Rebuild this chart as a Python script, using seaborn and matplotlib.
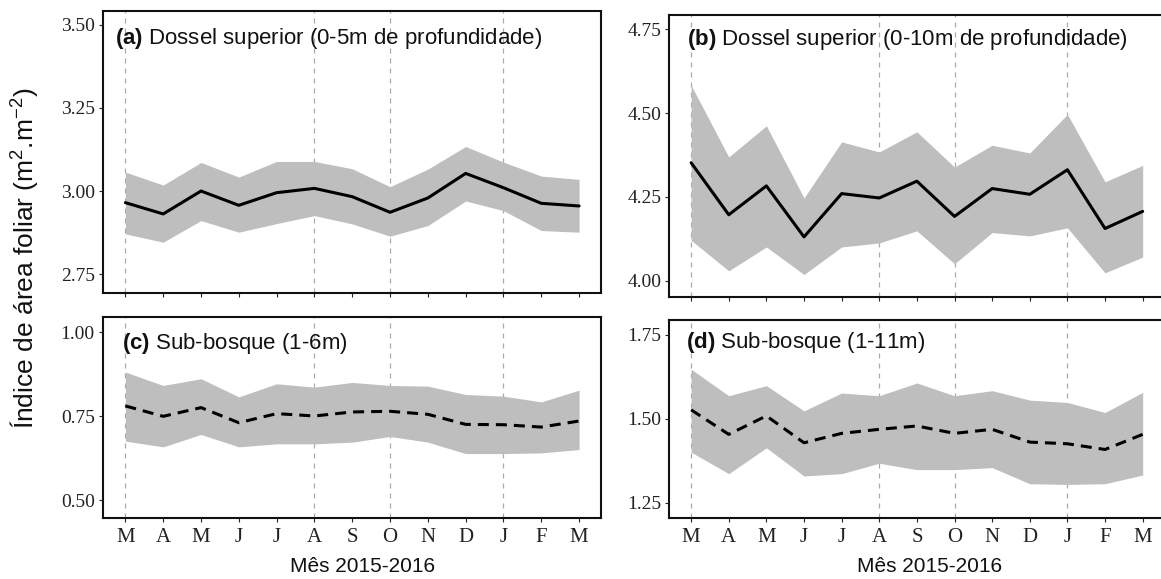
import numpy as np
import pandas as pd
import matplotlib
matplotlib.use("Agg")
import matplotlib.pyplot as plt
import seaborn as sns

# Months March 2015 - March 2016
months = ["M", "A", "M", "J", "J", "A", "S", "O", "N", "D", "J", "F", "M"]
grid_months = [0, 5, 7, 10]

# (a) upper canopy, 0-5 m depth
a_mean = [2.965, 2.931, 3.000, 2.957, 2.995, 3.008, 2.983, 2.936, 2.979, 3.053, 3.010, 2.963, 2.955]
a_upper = [3.057, 3.018, 3.086, 3.042, 3.089, 3.089, 3.067, 3.013, 3.066, 3.134, 3.087, 3.045, 3.035]
a_lower = [2.871, 2.846, 2.911, 2.876, 2.902, 2.926, 2.901, 2.864, 2.896, 2.970, 2.941, 2.881, 2.876]

# (b) upper canopy, 0-10 m depth
b_mean = [4.352, 4.197, 4.283, 4.131, 4.260, 4.247, 4.297, 4.192, 4.275, 4.258, 4.331, 4.156, 4.207]
b_upper = [4.583, 4.369, 4.462, 4.247, 4.414, 4.384, 4.444, 4.339, 4.404, 4.381, 4.496, 4.295, 4.344]
b_lower = [4.121, 4.030, 4.101, 4.019, 4.101, 4.113, 4.149, 4.051, 4.144, 4.134, 4.158, 4.024, 4.071]

# (c) understory, 1-6 m
c_mean = [0.781, 0.750, 0.776, 0.731, 0.758, 0.751, 0.763, 0.765, 0.756, 0.726, 0.725, 0.718, 0.736]
c_upper = [0.882, 0.842, 0.862, 0.808, 0.847, 0.837, 0.851, 0.842, 0.840, 0.815, 0.810, 0.793, 0.828]
c_lower = [0.676, 0.659, 0.696, 0.659, 0.668, 0.668, 0.673, 0.690, 0.673, 0.639, 0.639, 0.641, 0.651]

# (d) understory, 1-11 m
d_mean = [1.526, 1.453, 1.508, 1.428, 1.456, 1.468, 1.478, 1.456, 1.468, 1.430, 1.425, 1.408, 1.453]
d_upper = [1.647, 1.568, 1.598, 1.523, 1.576, 1.568, 1.606, 1.568, 1.583, 1.555, 1.548, 1.518, 1.578]
d_lower = [1.400, 1.336, 1.413, 1.329, 1.336, 1.367, 1.348, 1.348, 1.354, 1.306, 1.304, 1.306, 1.332]

a_ticks = [2.75, 3.00, 3.25, 3.50]
b_ticks = [4.00, 4.25, 4.50, 4.75]
c_ticks = [0.50, 0.75, 1.00]
d_ticks = [1.25, 1.50, 1.75]

sns.set_style("ticks")
plt.rcParams["font.family"] = ["Liberation Sans", "DejaVu Sans"]
plt.rcParams["mathtext.fontset"] = "custom"
plt.rcParams["mathtext.rm"] = "Liberation Sans"
plt.rcParams["mathtext.it"] = "Liberation Sans:italic"
plt.rcParams["mathtext.bf"] = "Liberation Sans:bold"

W, H = 1161, 579
fig = plt.figure(figsize=(W / 100, H / 100), dpi=100)


def panel(left, right, top, bottom):
    return fig.add_axes([left / W, 1 - bottom / H, (right - left) / W, (bottom - top) / H])


x = np.arange(len(months))
BAND = "#bebebe"

panels = [
    # box (l, r, t, b), data, ticks, ylim, xlim, title, title pos, dashed, bottom row, right col
    ((102.7, 601, 11, 293), (a_mean, a_lower, a_upper), a_ticks, (2.693, 3.542), (-0.6, 12.58),
     r"$\mathbf{(a)}$ Dossel superior (0-5m de profundidade)", (0.025, 0.903), False, False, False),
    ((669.3, 1166, 15, 297), (b_mean, b_lower, b_upper), b_ticks, (3.952, 4.792), (-0.58, 12.62),
     r"$\mathbf{(b)}$ Dossel superior (0-10m de profundidade)", (0.035, 0.912), False, False, True),
    ((102.7, 601, 317, 518), (c_mean, c_lower, c_upper), c_ticks, (0.447, 1.046), (-0.6, 12.58),
     r"$\mathbf{(c)}$ Sub-bosque (1-6m)", (0.039, 0.868), True, True, False),
    ((669.3, 1166, 319.5, 518), (d_mean, d_lower, d_upper), d_ticks, (1.204, 1.795), (-0.58, 12.62),
     r"$\mathbf{(d)}$ Sub-bosque (1-11m)", (0.034, 0.882), True, True, True),
]

for box, (mean, lower, upper), yticks, ylim, xlim, title, tpos, dashed, bottom_row, right_col in panels:
    ax = panel(*box)
    df = pd.DataFrame({"mes": x, "iaf": mean, "inf": lower, "sup": upper})
    for g in grid_months:
        ax.axvline(g, color="#aaaaaa", lw=0.9, ls=(0, (4, 4)), zorder=0)
    ax.fill_between(df["mes"], df["inf"], df["sup"], color=BAND, lw=0, zorder=1)
    ls = (0, (3.6, 2.3)) if dashed else "-"
    sns.lineplot(data=df, x="mes", y="iaf", ax=ax, color="black", lw=2.2,
                 linestyle=ls, zorder=3)
    ax.set_xlim(*xlim)
    ax.set_ylim(*ylim)
    ax.set_xlabel("")
    ax.set_ylabel("")
    ax.set_yticks(yticks)
    ax.set_yticklabels([f"{t:.2f}" for t in yticks], family="Liberation Serif",
                       fontsize=14, color="#222222")
    ax.set_xticks(x)
    if bottom_row:
        ax.set_xticklabels(months, family="Liberation Serif", fontsize=15, color="#222222")
    else:
        ax.set_xticklabels([])
    ax.tick_params(axis="both", direction="out", length=3.2, width=0.8, color="#222222")
    ax.tick_params(axis="y", pad=2.5)
    ax.tick_params(axis="x", pad=4)
    for s in ax.spines.values():
        s.set_visible(True)
        s.set_linewidth(1.5)
        s.set_color("#111111")
    if right_col:
        # the right-hand column runs off the figure edge
        ax.spines["right"].set_visible(False)
    ax.text(tpos[0], tpos[1], title, transform=ax.transAxes, fontsize=16,
            ha="left", va="center", color="#111111")

fig.text(24 / W, 1 - 258 / H, r"Índice de área foliar (m$^2$.m$^{-2}$)", rotation=90,
         ha="center", va="center", fontsize=19, color="#111111")
fig.text(363 / W, 1 - 566 / H, "Mês 2015-2016", ha="center", va="center", fontsize=15,
         color="#111111")
fig.text(930 / W, 1 - 566 / H, "Mês 2015-2016", ha="center", va="center", fontsize=15,
         color="#111111")

fig.savefig("out.png", dpi=100)
